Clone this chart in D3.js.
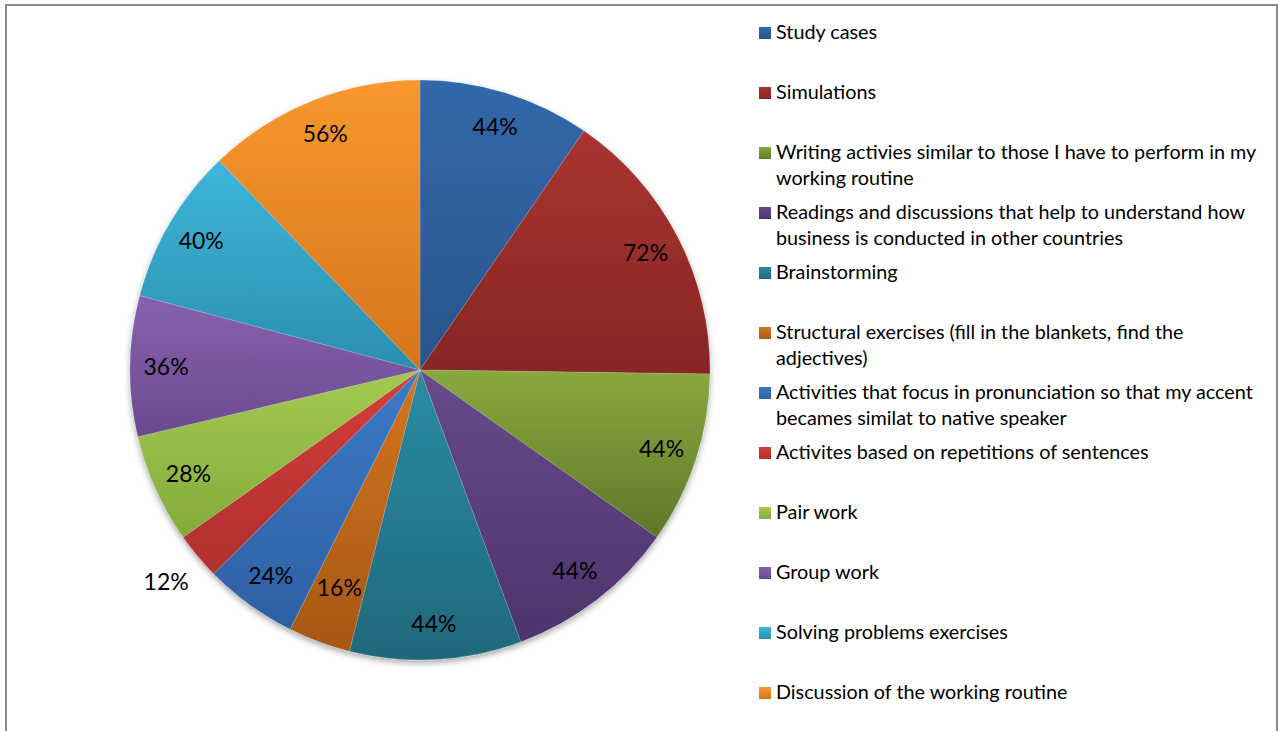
<!DOCTYPE html>
<html>
<head>
<meta charset="utf-8">
<script src="https://cdn.jsdelivr.net/npm/d3@7/dist/d3.min.js"></script>
<style>
  html, body { margin: 0; padding: 0; background: #ffffff; }
  svg { display: block; }
  text { font-family: Lato, "Open Sans", sans-serif; fill: #000; }
</style>
</head>
<body>
<svg id="chart" width="1285" height="731"></svg>
<script>
// Categories, in drawing order (clockwise from 12 o'clock)
const categories = [
  "Study cases",
  "Simulations",
  "Writing activies similar to those I have to perform in my|working routine",
  "Readings and discussions that help to understand how|business is conducted in other countries",
  "Brainstorming",
  "Structural exercises (fill in the blankets, find the|adjectives)",
  "Activities that focus in pronunciation so that my accent|becames similat to native speaker",
  "Activites based on repetitions of sentences",
  "Pair work",
  "Group work",
  "Solving problems exercises",
  "Discussion of the working routine"
];

// Share of respondents choosing each activity (%)
const values = [44, 72, 44, 44, 44, 16, 24, 12, 28, 36, 40, 56];

// Label placement: inside the slice, pulled toward the centre, or outside the rim
const labelPlacement = ["in","in","in","in","in","near","in","out","in","in","in","in"];

// Gradient fills (top, bottom) for each slice
const colorTop    = ["#3368ab","#aa3431","#89a93e","#684a8a","#2b8ca3","#d4751f","#3c7ac8","#d43e3b","#a3ca50","#8762ae","#3db7db","#f8982f"];
const colorBottom = ["#29558a","#862624","#5f772a","#4d346d","#1f687c","#a65717","#2e60a3","#b02f2d","#85aa3d","#6a4a8f","#2b8eae","#d6741c"];

const svg = d3.select("#chart");
const defs = svg.append("defs");

// Soft shadow under the pie
const shadow = defs.append("filter").attr("id", "pieShadow")
  .attr("x", "-10%").attr("y", "-10%").attr("width", "120%").attr("height", "125%");
shadow.append("feDropShadow")
  .attr("dx", 0).attr("dy", 3).attr("stdDeviation", 3)
  .attr("flood-color", "#000").attr("flood-opacity", 0.35);

categories.forEach((c, i) => {
  const g = defs.append("linearGradient").attr("id", "grad" + i)
    .attr("x1", 0).attr("y1", 0).attr("x2", 0).attr("y2", 1);
  g.append("stop").attr("offset", "0%").attr("stop-color", colorTop[i]);
  g.append("stop").attr("offset", "100%").attr("stop-color", colorBottom[i]);
});

// Chart frame
svg.append("rect")
  .attr("x", 6).attr("y", 5).attr("width", 1271).attr("height", 760)
  .attr("fill", "none").attr("stroke", "#8a8a8a").attr("stroke-width", 2);

const cx = 420, cy = 370, radius = 290;

const data = values.map((v, i) => ({ name: categories[i], value: v, i }));
const pie = d3.pie().value(d => d.value).sort(null);
const arcs = pie(data);
const arc = d3.arc().innerRadius(0).outerRadius(radius);
const labelArcs = {
  in:   d3.arc().innerRadius(254).outerRadius(254),
  near: d3.arc().innerRadius(232).outerRadius(232),
  out:  d3.arc().innerRadius(331).outerRadius(331)
};

const pieG = svg.append("g").attr("transform", `translate(${cx},${cy})`);

pieG.append("g").attr("filter", "url(#pieShadow)")
  .selectAll("path")
  .data(arcs)
  .join("path")
  .attr("d", arc)
  .attr("fill", d => `url(#grad${d.data.i})`)
  .attr("stroke", "rgba(255,255,255,0.25)")
  .attr("stroke-width", 0.6);

pieG.append("g")
  .selectAll("text")
  .data(arcs)
  .join("text")
  .attr("transform", d => {
    const [x, y] = labelArcs[labelPlacement[d.data.i]].centroid(d);
    return `translate(${x},${y})`;
  })
  .attr("text-anchor", "middle")
  .attr("dy", "0.35em")
  .style("font-size", "23px")
  .text(d => d.data.value + "%");

// Legend
const legend = svg.append("g").attr("transform", "translate(759,0)");
const rowY = d3.scaleLinear().domain([0, 1]).range([32, 92]);

const item = legend.selectAll("g.item")
  .data(categories)
  .join("g")
  .attr("class", "item")
  .attr("transform", (d, i) => `translate(0,${rowY(i)})`);

item.append("rect")
  .attr("x", 0).attr("y", -5).attr("width", 12).attr("height", 12)
  .attr("fill", (d, i) => `url(#grad${i})`);

item.append("text")
  .style("font-size", "19.8px")
  .each(function(d) {
    const lines = d.split("|");
    d3.select(this).selectAll("tspan")
      .data(lines)
      .join("tspan")
      .attr("x", 17)
      .attr("y", (l, k) => k * 26)
      .attr("dy", "0.35em")
      .text(l => l);
  });
</script>
</body>
</html>
